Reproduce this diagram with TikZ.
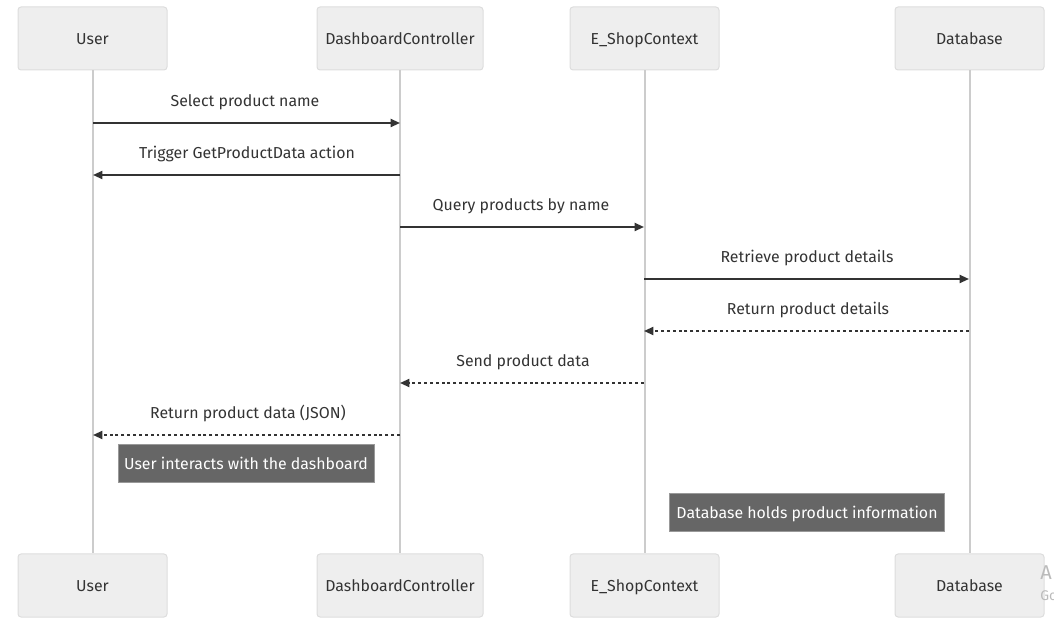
\documentclass[tikz,border=0pt]{standalone}
\usepackage{fontspec}
\setmainfont{Fira Sans}
\usetikzlibrary{arrows.meta}
\definecolor{actfill}{HTML}{EEEEEE}
\definecolor{actdraw}{HTML}{DDDDDD}
\definecolor{lifec}{HTML}{CCCCCC}
\definecolor{msgc}{HTML}{333333}
\definecolor{notefill}{HTML}{666666}
\definecolor{notedraw}{HTML}{999999}
\definecolor{wmc}{HTML}{BBBBBB}
\begin{document}
\begin{tikzpicture}[x=0.75pt,y=-0.75pt,
  txt/.style={font=\fontsize{11.9}{13}\selectfont, text height=10.6pt, text depth=1.6pt},
  actor/.style={txt, draw=actdraw, fill=actfill, line width=0.75pt, rounded corners=2.25pt,
    minimum height={63*0.75pt}, inner sep=0pt, text=msgc},
  lifeline/.style={draw=lifec, line width=1.5pt},
  msg/.style={draw=msgc, line width=1.4pt, -{Triangle[length=7pt,width=6pt]}},
  reply/.style={msg, dash pattern=on 2.2pt off 2.2pt},
  lbl/.style={txt, text=msgc, inner sep=0pt},
  note/.style={txt, draw=notedraw, fill=notefill, line width=0.75pt, text=white,
    minimum height={38*0.75pt}, inner sep=0pt}
]
\useasboundingbox (0,0) rectangle (1054,623);
% actors top
\node[actor, minimum width={149*0.75pt}] (uT) at (92.5,38.5) {User};
\node[actor, minimum width={166*0.75pt}] (dT) at (400,38.5) {DashboardController};
\node[actor, minimum width={149*0.75pt}] (eT) at (644.5,38.5) {E\_ShopContext};
\node[actor, minimum width={149*0.75pt}] (bT) at (969.5,38.5) {Database};
% actors bottom
\node[actor, minimum width={149*0.75pt}] (uB) at (92.5,585.5) {User};
\node[actor, minimum width={166*0.75pt}] (dB) at (400,585.5) {DashboardController};
\node[actor, minimum width={149*0.75pt}] (eB) at (644.5,585.5) {E\_ShopContext};
\node[actor, minimum width={149*0.75pt}] (bB) at (969.5,585.5) {Database};
% lifelines
\draw[lifeline] (uT) -- (uB);
\draw[lifeline] (dT) -- (dB);
\draw[lifeline] (eT) -- (eB);
\draw[lifeline] (bT) -- (bB);
% message points
\coordinate (u1) at (93,123);  \coordinate (d1) at (400,123);
\coordinate (d2) at (400,175); \coordinate (u2) at (93,175);
\coordinate (d3) at (400,227); \coordinate (e3) at (644,227);
\coordinate (e4) at (644,279); \coordinate (b4) at (969,279);
\coordinate (b5) at (969,331); \coordinate (e5) at (644,331);
\coordinate (e6) at (644,383); \coordinate (d6) at (400,383);
\coordinate (d7) at (400,435); \coordinate (u7) at (93,435);
% messages
\draw[msg] (u1) -- (d1);
\node[lbl] (l1) at (245,101) {Select product name};
\draw[msg] (d2) -- (u2);
\node[lbl] (l2) at (247,153) {Trigger GetProductData action};
\draw[msg] (d3) -- (e3);
\node[lbl] (l3) at (521,205) {Query products by name};
\draw[msg] (e4) -- (b4);
\node[lbl] (l4) at (807,257) {Retrieve product details};
\draw[reply] (b5) -- (e5);
\node[lbl] (l5) at (808,309) {Return product details};
\draw[reply] (e6) -- (d6);
\node[lbl] (l6) at (523,361) {Send product data};
\draw[reply] (d7) -- (u7);
\node[lbl] (l7) at (248,413) {Return product data (JSON)};
% notes
\node[note, minimum width={256*0.75pt}] (n1) at (246,464) {User interacts with the dashboard};
\node[note, minimum width={275*0.75pt}] (n2) at (807,513) {Database holds product information};
% watermark (cut at the edge, as in the reference)
\node[anchor=west, inner sep=0pt, text=wmc, font=\fontsize{15}{15}\selectfont] (wa) at (1040,573) {A};
\node[anchor=west, inner sep=0pt, text=wmc, font=\fontsize{10.5}{11}\selectfont] (wg) at (1040,596) {Go};
\end{tikzpicture}
\end{document}
